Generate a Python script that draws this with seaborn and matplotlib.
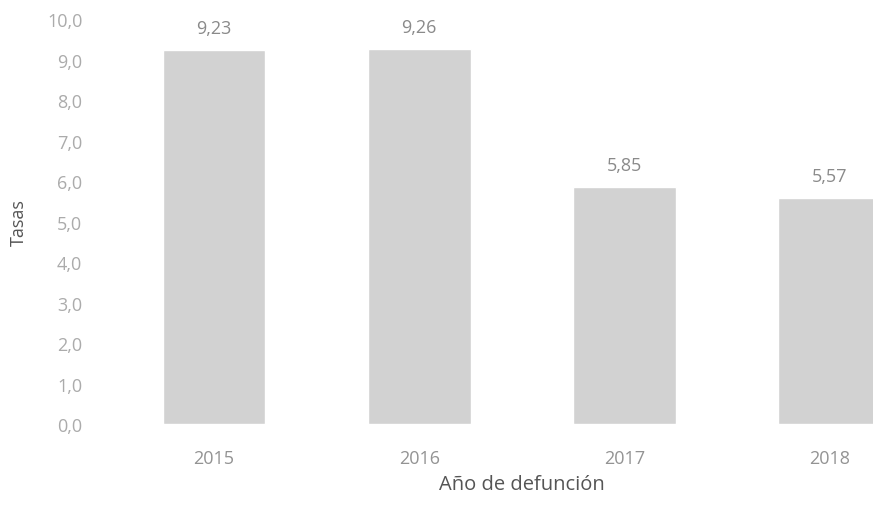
import pandas as pd
import seaborn as sns
import matplotlib.pyplot as plt

years = ["2015", "2016", "2017", "2018"]
tasas = [9.23, 9.26, 5.85, 5.57]
yticks = [0, 1, 2, 3, 4, 5, 6, 7, 8, 9, 10]

df = pd.DataFrame({"year": years, "tasa": tasas})

sns.set_theme(style="white")
plt.rcParams["font.family"] = ["Open Sans", "DejaVu Sans"]

fig = plt.figure(figsize=(8.73, 5.06), dpi=100)
# the source chart is cropped on the right, so the axes run past the figure edge
ax = fig.add_axes([0.1277, 0.16, 0.94, 0.8004])

sns.barplot(data=df, x="year", y="tasa", color="#d2d2d2", saturation=1,
            width=0.5, ax=ax)

for i, v in enumerate(tasas):
    ax.text(i, v + 0.33, f"{v:.2f}".replace(".", ","), ha="center", va="bottom",
            fontsize=13, color="#8a8a8a")

ax.set_ylim(0, 10)
ax.set_xlim(-0.5, 3.5)
ax.set_yticks(yticks)
ax.set_yticklabels([f"{t:.1f}".replace(".", ",") for t in yticks],
                   color="#ababab", fontsize=13)
ax.tick_params(axis="x", labelsize=13, pad=18, length=0)
ax.tick_params(axis="y", pad=21, length=0)
for lbl in ax.get_xticklabels():
    lbl.set_color("#939393")

ax.set_xlabel("Año de defunción", fontsize=14.5, color="#555555", labelpad=5)
ax.set_ylabel("Tasas", fontsize=13, color="#555555", labelpad=14)
sns.despine(ax=ax, left=True, bottom=True)

fig.savefig("out.png", dpi=100)
